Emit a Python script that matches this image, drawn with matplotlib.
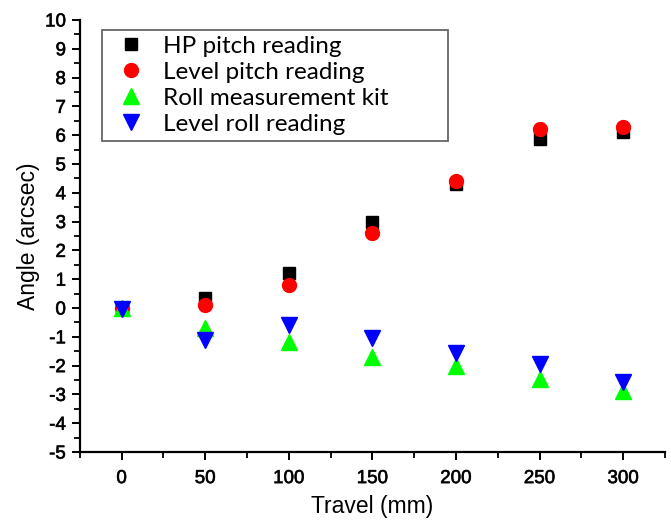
import matplotlib
matplotlib.use("Agg")
import matplotlib.pyplot as plt
import matplotlib.patheffects as pe
from matplotlib.ticker import MultipleLocator

travel = [0, 50, 100, 150, 200, 250, 300]
hp_pitch = [0.0, 0.35, 1.2, 3.0, 4.3, 5.85, 6.1]
level_pitch = [0.0, 0.1, 0.8, 2.6, 4.4, 6.2, 6.3]
roll_kit = [0.0, -0.7, -1.18, -1.7, -2.0, -2.45, -2.88]
level_roll = [-0.05, -1.1, -0.6, -1.05, -1.55, -1.95, -2.57]

plt.rcParams['font.family'] = ['Liberation Sans', 'DejaVu Sans']
plt.rcParams['axes.unicode_minus'] = False

fig = plt.figure(figsize=(6.71, 5.25), dpi=100)
ax = fig.add_axes([0.119, 0.139, 0.872, 0.823])

ax.plot(travel, hp_pitch, 's', color='black', markersize=9, label='HP pitch reading')
ax.plot(travel, level_pitch, 'o', color='#ff0000', markersize=10, label='Level pitch reading')
ax.plot(travel, roll_kit, '^', color='#00ff00', markersize=11.5, label='Roll measurement kit')
ax.plot(travel, level_roll, 'v', color='#0000ff', markersize=11.5, label='Level roll reading')

ax.set_xlim(-25, 325)
ax.set_ylim(-5, 10)
ax.xaxis.set_major_locator(MultipleLocator(50))
ax.xaxis.set_minor_locator(MultipleLocator(25))
ax.yaxis.set_major_locator(MultipleLocator(1))
ax.yaxis.set_minor_locator(MultipleLocator(0.5))

ax.spines['top'].set_visible(False)
ax.spines['right'].set_visible(False)
ax.spines['left'].set_linewidth(1.6)
ax.spines['bottom'].set_linewidth(1.6)
ax.tick_params(which='major', direction='out', length=6, width=1.4, labelsize=13.5)
ax.tick_params(which='minor', direction='out', length=4, width=1.3)
ax.tick_params(axis='x', which='major', pad=7)
ax.tick_params(axis='y', which='major', pad=4)
# the original labels look a little heavier than regular weight
for lab in ax.get_xticklabels() + ax.get_yticklabels():
    lab.set_path_effects([pe.withStroke(linewidth=0.5, foreground='#222222')])

ax.set_xlabel('Travel (mm)', fontsize=16.5, labelpad=6)
ax.set_ylabel('Angle (arcsec)', fontsize=16.5, labelpad=4)

leg = ax.legend(loc='upper left', bbox_to_anchor=(0.0376, 0.727, 0.591, 0.25), mode='expand',
                fancybox=False, edgecolor='#666666', framealpha=1, handletextpad=0.35,
                labelspacing=0.2, borderpad=0.25, handlelength=1.9, borderaxespad=0,
                prop={'family': 'Lato', 'size': 17.5})
leg.get_frame().set_linewidth(1.3)

fig.savefig('out.png', dpi=100)
